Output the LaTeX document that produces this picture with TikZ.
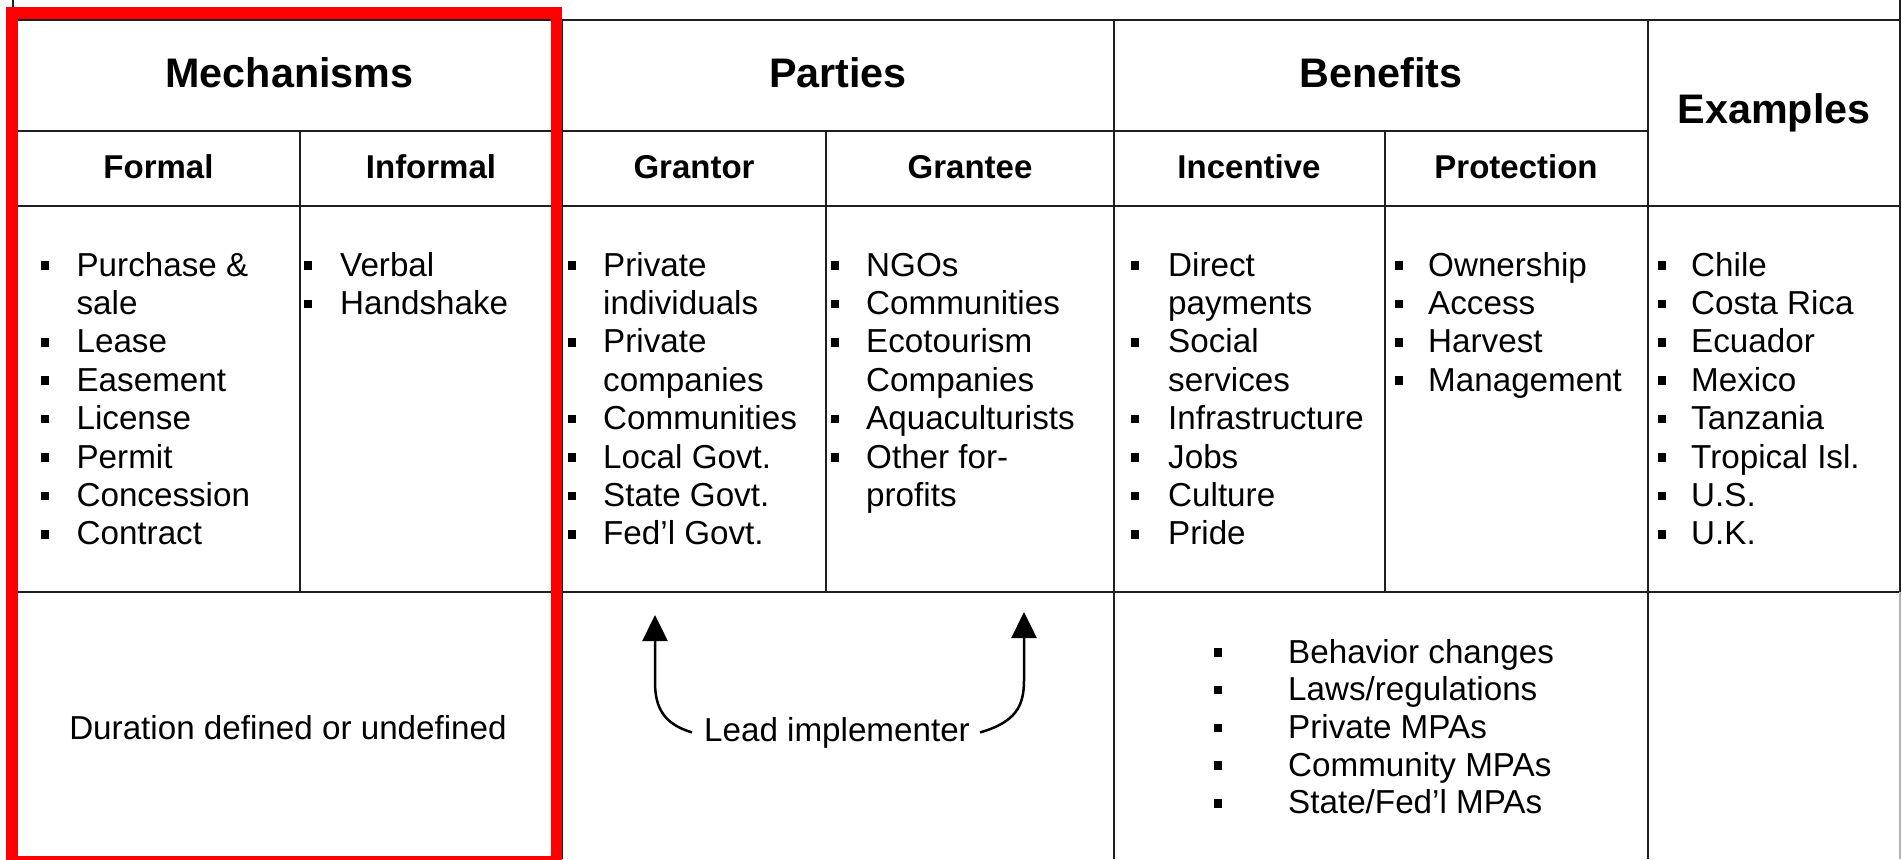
\documentclass[tikz,border=0pt]{standalone}
\usepackage{fontspec}
\setmainfont{Liberation Sans}
\usetikzlibrary{arrows.meta}
\tikzset{
  grid/.style={draw=black!88, line width=2pt},
  hd/.style={anchor=base, inner sep=0pt, font=\fontsize{41.3}{48}\selectfont\bfseries},
  sub/.style={anchor=base, inner sep=0pt, font=\fontsize{33}{40}\selectfont\bfseries},
  itm/.style={anchor=base west, inner sep=0pt, font=\fontsize{33.2}{38}\selectfont},
  txt/.style={anchor=base, inner sep=0pt, font=\fontsize{33.2}{38}\selectfont},
  bul/.style={rectangle, fill=black, minimum size=8.5pt, inner sep=0pt},
  arr/.style={line width=2.5pt, -{Triangle[length=26pt,width=25pt]}},
  redbox/.style={draw=red, line width=11.5pt}
}
% #1 prefix, #2 bullet x, #3 text x, #4 first baseline, #5 line step, #6 items flag/text
\newcommand\mylist[6]{%
  \foreach \fl/\tx [count=\i from 0] in {#6} {%
    \node[itm] (#1-\i) at (#3, {#4+\i*#5}) {\tx};
    \ifnum\fl=1 \node[bul] (#1-b\i) at (#2, {#4+\i*#5-10.5}) {};\fi
  }%
}
\begin{document}
\begin{tikzpicture}[x=1pt, y=-1pt]
\useasboundingbox (0,0) rectangle (1902,859);
\fill[white] (0,0) rectangle (1902,859);

% table lines
\draw[grid] (13.3,0) -- (13.3,859);
\draw[grid] (13.3,20) -- (1900,20);
\draw[grid] (13.3,131) -- (1648,131);
\draw[grid] (13.3,206) -- (1900,206);
\draw[grid] (13.3,592) -- (1900,592);
\draw[grid] (300,131) -- (300,592);
\draw[grid] (562,20) -- (562,859);
\draw[grid] (826,131) -- (826,592);
\draw[grid] (1113.5,20) -- (1113.5,859);
\draw[grid] (1385,131) -- (1385,592);
\draw[grid] (1648,20) -- (1648,859);
\draw[grid] (1900,0) -- (1900,592);
\draw[draw=black!30, line width=2pt] (1900,592) -- (1900,859);

% headers
\node[hd] (mech) at (289.5,87) {Mechanisms};
\node[hd] (part) at (838,87) {Parties};
\node[hd] (bene) at (1381,87) {Benefits};
\node[hd] (exam) at (1774,123) {Examples};
\node[sub] (form) at (158.5,178) {Formal};
\node[sub] (info) at (431,178) {Informal};
\node[sub] (gtor) at (694,178) {Grantor};
\node[sub] (gtee) at (970,178) {Grantee};
\node[sub] (ince) at (1249,178) {Incentive};
\node[sub] (prot) at (1516,178) {Protection};

% lists
\mylist{fm}{45}{76.4}{276}{38.4}{1/Purchase \&, 0/sale, 1/Lease, 1/Easement, 1/License, 1/Permit, 1/Concession, 1/Contract}
\mylist{in}{308}{340}{276}{38.4}{1/Verbal, 1/Handshake}
\mylist{gr}{572}{603}{276}{38.4}{1/Private, 0/individuals, 1/Private, 0/companies, 1/Communities, 1/Local Govt., 1/State Govt., 1/Fed’l Govt.}
\mylist{ge}{835}{866}{276}{38.4}{1/NGOs, 1/Communities, 1/Ecotourism, 0/Companies, 1/Aquaculturists, 1/Other for-, 0/profits}
\mylist{ic}{1135}{1168}{276}{38.4}{1/Direct, 0/payments, 1/Social, 0/services, 1/Infrastructure, 1/Jobs, 1/Culture, 1/Pride}
\mylist{pr}{1399}{1428}{276}{38.4}{1/Ownership, 1/Access, 1/Harvest, 1/Management}
\mylist{ex}{1662}{1691}{276}{38.4}{1/Chile, 1/Costa Rica, 1/Ecuador, 1/Mexico, 1/Tanzania, 1/Tropical Isl., 1/U.S., 1/U.K.}
\mylist{bf}{1218}{1288}{663}{37.7}{1/{Behavior changes}, 1/{Laws/regulations}, 1/{Private MPAs}, 1/{Community MPAs}, 1/{State/Fed’l MPAs}}

% bottom row
\node[txt] (dur) at (288,739) {Duration defined or undefined};
\node[txt] (lead) at (837,741) {Lead implementer};
\coordinate (tipL) at (655,615);
\coordinate (tipR) at (1024,612);
\draw[arr] ([xshift=-12pt]lead.west) .. controls (664,724) and (655,708) .. (655,682) -- (tipL);
\draw[arr] ([xshift=10pt]lead.east) .. controls (1016,722) and (1024,706) .. (1024,680) -- (tipR);

% red frame
\draw[redbox] (11.8,12.8) rectangle (556.5,862);
\end{tikzpicture}
\end{document}
